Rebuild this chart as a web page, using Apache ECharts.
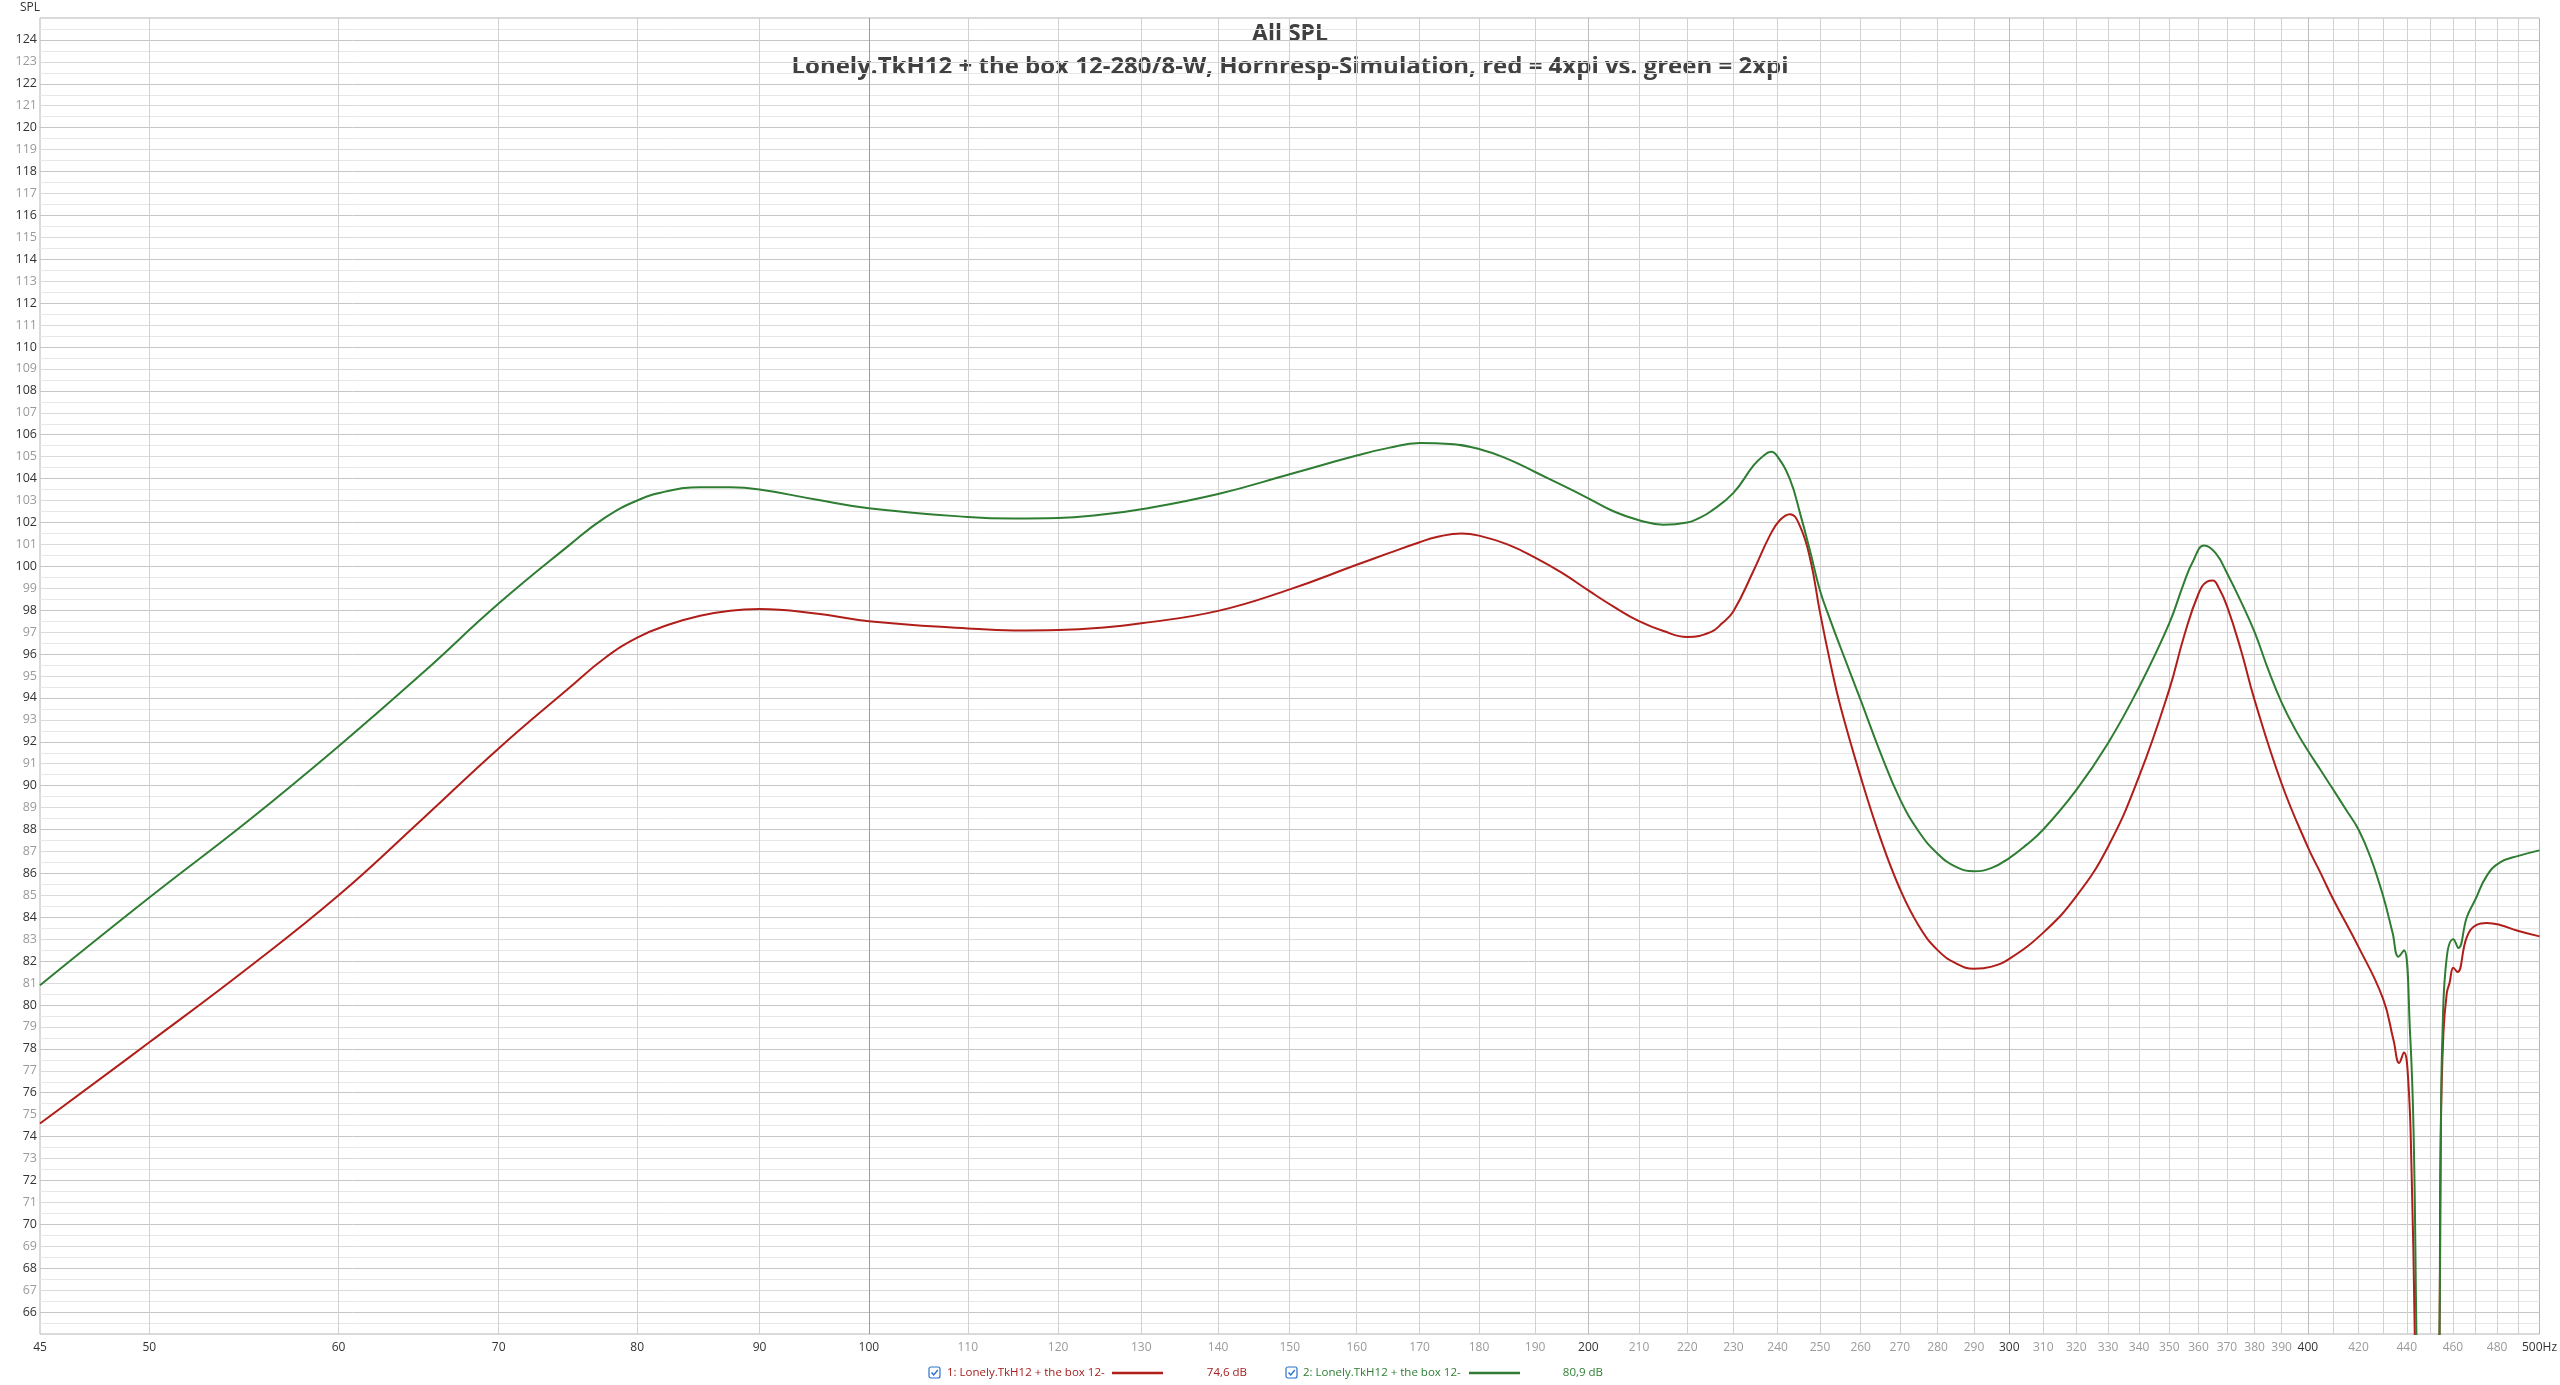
<!DOCTYPE html>
<html><head><meta charset="utf-8">
<script src="https://cdn.jsdelivr.net/npm/echarts@6/dist/echarts.min.js"></script>
<style>html,body{margin:0;padding:0;background:#fff}#c{width:2560px;height:1385px}</style>
</head><body><div id="c"></div>
<script>
// ---- data ----
const titleText = 'All SPL';
const subtitleText = 'Lonely.TkH12 + the box 12-280/8-W, Hornresp-Simulation, red = 4xpi vs. green = 2xpi';
const yAxisName = 'SPL';
const seriesNames = ['1: Lonely.TkH12 + the box 12-', '2: Lonely.TkH12 + the box 12-'];

// red = 4xpi  (frequency in Hz, SPL in dB)
const redFreq = [45,50,55,60,65,70,75,77.5,80,82.5,85,87.5,90,95,100,110,115,120,125,130,140,150,160,165,170,173,177,180,185,190,195,200,205,210,215,220,225,227.5,230,234.5,238.2,240.5,242.9,245.3,247.7,250,252.5,255,260,265,270,275,280,285,290,295,300,310,320,330,340,350,355,360,363,365,367,370,375,380,390,400,405,410,420,430,434.4,436.8,438.8,440.6,442,443.4,444.4,449,453,454.1,454.6,455.8,457.3,458.5,460.2,462,466.2,470.6,475.3,481.4,489.2,500];
const redSpl = [74.6,78.3,81.7,85.0,88.45,91.7,94.5,95.8,96.75,97.35,97.75,97.98,98.05,97.85,97.5,97.17,97.08,97.1,97.2,97.4,97.97,98.95,100.07,100.6,101.1,101.35,101.5,101.4,101.0,100.4,99.7,98.9,98.15,97.5,97.05,96.78,97.0,97.4,97.95,99.8,101.4,102.1,102.38,101.8,100.3,97.9,95.6,93.6,90.4,87.6,85.3,83.6,82.5,81.9,81.65,81.75,82.1,83.3,84.95,87.23,90.43,94.38,96.8,98.75,99.3,99.35,99.05,98.2,96.2,93.9,90.1,87.2,86.0,84.8,82.65,80.3,78.4,77.36,77.84,76.6,72.6,65,57,45,57,65,74,78.7,80.55,81.0,81.7,81.5,83.1,83.65,83.74,83.65,83.4,83.13];

// green = 2xpi
const greenFreq = [45,50,55,60,65,70,75,77.5,80,82.5,85,87.5,90,95,100,110,115,120,125,130,140,150,160,165,170,175,180,185,190,195,200,205,210,215,220,222.5,225,230,234.5,236.5,238.5,240,242.9,245.3,247.7,250,252.5,255,260,265,270,275,280,285,290,295,300,305,310,320,330,340,350,355,358,362,366,370,375,380,385,390,395,400,405,410,415,420,425,430,434,436.5,438.8,441.4,442.9,444.1,445.2,449,452.8,454.1,454.7,455.4,457.3,460.2,462.4,466.2,470,475.3,481.4,490,500];
const greenSpl = [80.9,84.9,88.4,91.8,95.1,98.3,101.0,102.2,103.0,103.45,103.6,103.6,103.5,103.05,102.65,102.25,102.18,102.2,102.35,102.6,103.3,104.2,105.05,105.4,105.62,105.58,105.35,104.9,104.3,103.7,103.1,102.5,102.1,101.9,102.0,102.2,102.5,103.35,104.6,105.0,105.22,105.0,103.95,102.38,100.64,98.9,97.55,96.3,93.9,91.5,89.4,87.9,86.9,86.3,86.1,86.25,86.7,87.3,88.0,89.8,91.95,94.5,97.4,99.25,100.2,100.95,100.6,99.7,98.4,97.0,95.3,93.8,92.6,91.6,90.7,89.8,88.9,88.0,86.7,85.0,83.3,82.2,82.5,78.7,74.2,65,57,45,57,65,74,78.7,82.2,83.0,82.6,84.0,84.8,85.9,86.5,86.8,87.05];

// axis ticks
const xLabelTicks = [45,50,60,70,80,90,100,110,120,130,140,150,160,170,180,190,200,210,220,230,240,250,260,270,280,290,300,310,320,330,340,350,360,370,380,390,400,420,440,460,480,500];
const xGridTicks = [50,60,70,80,90,100,110,120,130,140,150,160,170,180,190,200,210,220,230,240,250,260,270,280,290,300,310,320,330,340,350,360,370,380,390,400,410,420,430,440,450,460,470,480,490];
const xMajorTicks = [100,200,300,400];
const yMin = 65, yMax = 125;

// ---- styling ----
const RED = '#b01e1a', GREEN = '#2e7d32';
const FONT = '"Open Sans", "Noto Sans", sans-serif';
const G = {left: 40, top: 18, width: 2500, height: 1316};

const chart = echarts.init(document.getElementById('c'), null, {renderer: 'canvas'});

function pairs(f, v) { return f.map((x, i) => [x, v[i]]); }
function fmtDb(v) { return v.toFixed(1).replace('.', ',') + ' dB'; }

function checkbox(x, y) {
  return {
    type: 'group', x: x, y: y, children: [
      {type: 'rect', shape: {x: 0, y: 0, width: 11, height: 11, r: 2}, style: {fill: '#fff', stroke: '#2a72cc', lineWidth: 1.2}},
      {type: 'polyline', shape: {points: [[2.5, 5.5], [4.7, 8], [8.8, 3]]}, style: {fill: null, stroke: '#2a72cc', lineWidth: 1.4}}
    ]
  };
}

const legendY = 1373;
const option = {
  animation: false,
  backgroundColor: '#fff',
  grid: {left: G.left, top: G.top, width: G.width, height: G.height, show: true, borderColor: '#b4b4b4', borderWidth: 1, backgroundColor: 'transparent', containLabel: false},
  xAxis: {
    type: 'log', logBase: 10, min: 45, max: 500,
    axisLine: {show: false},
    axisTick: {show: false, customValues: xGridTicks},
    axisLabel: {
      customValues: xLabelTicks, margin: 8, fontSize: 12, fontFamily: FONT,
      formatter: v => { const r = Math.round(v); return r === 500 ? '500Hz' : String(r); },
      color: v => { const r = Math.round(v); return (r < 100 || r % 100 === 0) ? '#333' : '#9a9a9a'; }
    },
    splitLine: {show: true, lineStyle: {color: '#d2d2d2', width: 1}},
    minorSplitLine: {show: false}
  },
  yAxis: {
    type: 'value', min: yMin, max: yMax, interval: 1,
    axisLine: {show: false}, axisTick: {show: false},
    axisLabel: {
      showMinLabel: false, showMaxLabel: false, margin: 3, fontSize: 12.5, fontFamily: FONT,
      color: v => (Math.round(Number(v)) % 2 === 0 ? '#333' : '#9a9a9a')
    },
    splitLine: {show: true, lineStyle: {color: ['#dadada', '#c6c6c6'], width: 1}},
    minorTick: {show: false, splitNumber: 2},
    minorSplitLine: {show: true, lineStyle: {color: '#e7e7e7', width: 1}}
  },
  series: [
    {
      name: seriesNames[0], type: 'line', data: pairs(redFreq, redSpl),
      showSymbol: false, smooth: 0.45, clip: true,
      lineStyle: {color: RED, width: 2}, z: 3,
      markLine: {
        silent: true, symbol: ['none', 'none'], z: 1, animation: false,
        label: {show: false},
        lineStyle: {type: 'solid', width: 1, color: '#a8a8a8'},
        data: xMajorTicks.map(v => ({xAxis: v, lineStyle: {type: 'solid', width: 1, color: v === 100 ? '#9c9c9c' : '#bcbcbc'}}))
      }
    },
    {
      name: seriesNames[1], type: 'line', data: pairs(greenFreq, greenSpl),
      showSymbol: false, smooth: 0.45, clip: true,
      lineStyle: {color: GREEN, width: 2}, z: 4
    }
  ],
  graphic: [
    {type: 'text', x: 20, y: 8, style: {text: yAxisName, fill: '#333', font: '12px ' + FONT, align: 'left', verticalAlign: 'middle'}},
    {type: 'text', x: 1290, y: 34, style: {text: titleText, fill: '#404040', font: 'bold 23px ' + FONT, align: 'center', verticalAlign: 'middle'}},
    {type: 'text', x: 1290, y: 67, style: {text: subtitleText, fill: '#404040', font: 'bold 24px ' + FONT, align: 'center', verticalAlign: 'middle'}},
    checkbox(929, legendY - 6),
    {type: 'text', x: 947, y: legendY, style: {text: seriesNames[0], fill: '#a51d1d', font: '11.5px ' + FONT, align: 'left', verticalAlign: 'middle'}},
    {type: 'line', shape: {x1: 1112, y1: legendY, x2: 1163, y2: legendY}, style: {stroke: RED, lineWidth: 2.5}},
    {type: 'text', x: 1247, y: legendY, style: {text: fmtDb(redSpl[0]), fill: '#a51d1d', font: '11.5px ' + FONT, align: 'right', verticalAlign: 'middle'}},
    checkbox(1286, legendY - 6),
    {type: 'text', x: 1303, y: legendY, style: {text: seriesNames[1], fill: '#2e7d32', font: '11.5px ' + FONT, align: 'left', verticalAlign: 'middle'}},
    {type: 'line', shape: {x1: 1469, y1: legendY, x2: 1520, y2: legendY}, style: {stroke: GREEN, lineWidth: 2.5}},
    {type: 'text', x: 1603, y: legendY, style: {text: fmtDb(greenSpl[0]), fill: '#2e7d32', font: '11.5px ' + FONT, align: 'right', verticalAlign: 'middle'}}
  ]
};
chart.setOption(option);
</script>
</body></html>
